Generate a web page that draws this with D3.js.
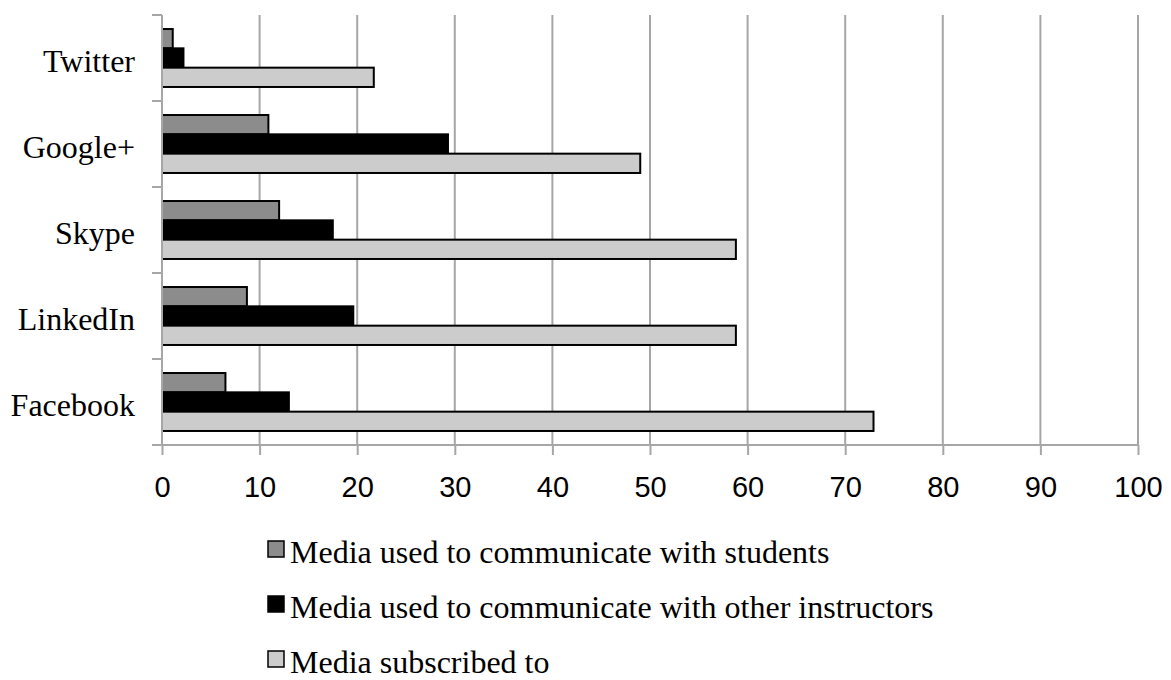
<!DOCTYPE html>
<html>
<head>
<meta charset="utf-8">
<script src="https://cdn.jsdelivr.net/npm/d3@7"></script>
<style>
  html, body { margin: 0; padding: 0; background: #fff; }
  svg { display: block; }
</style>
</head>
<body>
<svg id="chart" width="1171" height="680"></svg>
<script>
const categories = ["Twitter", "Google+", "Skype", "LinkedIn", "Facebook"];
const seriesNames = [
  "Media used to communicate with students",
  "Media used to communicate with other instructors",
  "Media subscribed to"
];
const students    = [1.1, 10.9, 12.0, 8.7, 6.5];
const instructors = [2.2, 29.3, 17.5, 19.6, 13.0];
const subscribed  = [21.7, 49.0, 58.8, 58.8, 72.9];
const xTicks = [0, 10, 20, 30, 40, 50, 60, 70, 80, 90, 100];
const seriesColors = ["#8c8c8c", "#000000", "#cccccc"];

const seriesValues = [students, instructors, subscribed];

(function () {
const svg = d3.select("#chart");
const mLeft = 162, mRight = 1138, mTop = 15, mBottom = 445;

const x = d3.scaleLinear().domain([0, 100]).range([mLeft, mRight]);
const y = d3.scaleBand().domain(categories).range([mTop, mBottom])
  .paddingInner(0.326).paddingOuter(0.163);
const ySub = d3.scaleBand().domain(d3.range(seriesNames.length)).range([0, y.bandwidth()]);

const gridColor = "#a6a6a6";
const serif = "'Liberation Serif', 'Times New Roman', serif";

// vertical gridlines
svg.append("g").selectAll("line").data(xTicks.filter(d => d > 0)).join("line")
  .attr("x1", d => x(d)).attr("x2", d => x(d))
  .attr("y1", mTop).attr("y2", mBottom)
  .attr("stroke", gridColor).attr("stroke-width", 2);

// bars
categories.forEach((c, i) => {
  seriesValues.forEach((vals, s) => {
    svg.append("rect")
      .attr("x", x(0))
      .attr("y", y(c) + ySub(s))
      .attr("width", x(vals[i]) - x(0))
      .attr("height", ySub.bandwidth())
      .attr("fill", seriesColors[s])
      .attr("stroke", "#000")
      .attr("stroke-width", 2);
  });
});

// x axis
const xAxis = d3.axisBottom(x).tickValues(xTicks).tickSize(10).tickPadding(21).tickFormat(d3.format("d"));
const gx = svg.append("g").attr("transform", `translate(0,${mBottom})`).call(xAxis);
gx.select(".domain").attr("stroke", gridColor).attr("stroke-width", 2)
  .attr("d", `M${mLeft},0H${mRight}`);
gx.selectAll(".tick line").attr("stroke", gridColor).attr("stroke-width", 2);
gx.selectAll(".tick text")
  .attr("font-family", "'Liberation Sans', Arial, sans-serif")
  .attr("font-size", 29).attr("fill", "#000");

// y axis
const bandEdges = categories.map(c => y(c) - y.step() * y.paddingOuter()).concat([mBottom]);
svg.append("line").attr("x1", mLeft).attr("x2", mLeft).attr("y1", mTop).attr("y2", mBottom)
  .attr("stroke", gridColor).attr("stroke-width", 2);
svg.append("g").selectAll("line").data(bandEdges).join("line")
  .attr("x1", mLeft - 10).attr("x2", mLeft)
  .attr("y1", d => d).attr("y2", d => d)
  .attr("stroke", gridColor).attr("stroke-width", 2);
svg.append("g").selectAll("text").data(categories).join("text")
  .attr("x", 135)
  .attr("y", d => y(d) + y.bandwidth() / 2)
  .attr("dy", "0.43em")
  .attr("text-anchor", "end")
  .attr("font-family", serif)
  .attr("font-size", 32)
  .attr("fill", "#000")
  .text(d => d);

// legend
const legend = svg.append("g");
seriesNames.forEach((name, s) => {
  const base = 563 + s * 55;
  legend.append("rect").attr("x", 268).attr("y", base - 22).attr("width", 16).attr("height", 16)
    .attr("fill", seriesColors[s]).attr("stroke", "#000").attr("stroke-width", 1.5);
  legend.append("text").attr("x", 290).attr("y", base)
    .attr("font-family", serif)
    .attr("font-size", 32).attr("fill", "#000").text(name);
});
})();
</script>
</body>
</html>
